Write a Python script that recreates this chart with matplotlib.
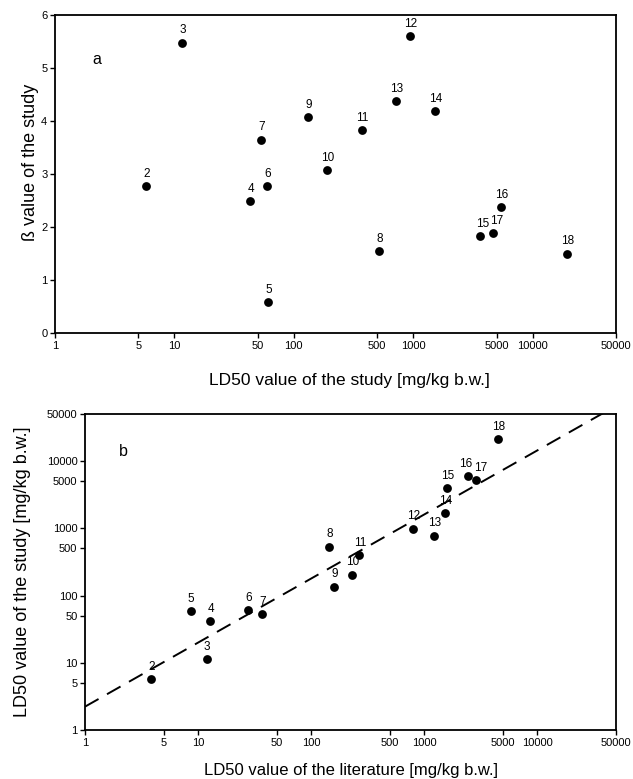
import matplotlib
matplotlib.use("Agg")
import matplotlib.pyplot as plt
import numpy as np

plt.rcParams['font.family'] = ['Liberation Sans', 'DejaVu Sans']

# ---- data ----
compound_ids = [2, 3, 4, 5, 6, 7, 8, 9, 10, 11, 12, 13, 14, 15, 16, 17, 18]

# panel a: LD50 of the study vs beta value
ld50_study_a = [5.8, 11.6, 43, 61, 60, 53, 514, 132, 191, 370, 940, 713, 1531, 3630, 5435, 4690, 19400]
beta_values = [2.78, 5.48, 2.49, 0.59, 2.77, 3.65, 1.54, 4.08, 3.08, 3.83, 5.61, 4.37, 4.19, 1.83, 2.37, 1.89, 1.50]

# panel b: LD50 of literature vs LD50 of the study
ld50_literature = [3.84, 11.9, 12.8, 8.6, 27.9, 36.8, 144, 159, 231, 268, 804, 1219, 1544, 1598, 2450, 2885, 4545]
ld50_study_b = [5.68, 11.5, 42.3, 59.6, 61, 53, 534, 136, 205, 402, 991, 779, 1676, 3950, 5890, 5250, 21170]

# regression line (log10 y = intercept + slope * log10 x)
reg_intercept = 0.347
reg_slope = 0.952

log_ticks = [1, 5, 10, 50, 100, 500, 1000, 5000, 10000, 50000]
log_tick_labels = ['1', '5', '10', '50', '100', '500', '1000', '5000', '10000', '50000']
beta_ticks = [0, 1, 2, 3, 4, 5, 6]

# small horizontal nudges (points) for crowded labels
label_dx_b = {16: -2.5, 17: 3.0}
label_dx_a = {15: 1.5, 17: 2.0}

W, H = 633, 779
fig = plt.figure(figsize=(W / 100, H / 100), dpi=100)

def fx(px):
    return px / W

def fy(py):
    return 1 - py / H

ax_a = fig.add_axes([fx(55), fy(333), fx(616) - fx(55), fy(15) - fy(333)])
ax_b = fig.add_axes([fx(85), fy(730), fx(616) - fx(85), fy(414) - fy(730)])

for ax in (ax_a, ax_b):
    for s in ax.spines.values():
        s.set_linewidth(1.3)
        s.set_color('black')
    ax.tick_params(axis='both', which='major', direction='out', length=3.5, width=1.0,
                   labelsize=8, pad=2, colors='black')
    ax.tick_params(which='minor', length=0)

# ---- panel a ----
ax_a.set_xscale('log')
ax_a.set_xlim(1, 50000)
ax_a.set_ylim(0, 6)
ax_a.set_xticks(log_ticks)
ax_a.set_xticklabels(log_tick_labels)
ax_a.set_yticks(beta_ticks)
ax_a.set_yticklabels([str(t) for t in beta_ticks])
ax_a.minorticks_off()
ax_a.scatter(ld50_study_a, beta_values, s=40, color='black', zorder=3, linewidths=0)
for cid, x, y in zip(compound_ids, ld50_study_a, beta_values):
    ax_a.annotate(str(cid), (x, y), textcoords='offset points',
                  xytext=(0.5 + label_dx_a.get(cid, 0), 8.7),
                  ha='center', va='center', fontsize=8.5, color='black')
ax_a.text(0.075, 0.86, 'a', transform=ax_a.transAxes, fontsize=11.5,
          ha='center', va='center')
fig.text(fx(31), fy(162), 'ß value of the study', rotation=90, ha='center',
         va='center', fontsize=13)

fig.text(fx(349), fy(381), 'LD50 value of the study [mg/kg b.w.]', ha='center',
         va='center', fontsize=12.5)

# ---- panel b ----
ax_b.set_xscale('log')
ax_b.set_yscale('log')
ax_b.set_xlim(1, 50000)
ax_b.set_ylim(1, 50000)
ax_b.set_xticks(log_ticks)
ax_b.set_xticklabels(log_tick_labels)
ax_b.set_yticks(log_ticks)
ax_b.set_yticklabels(log_tick_labels)
ax_b.minorticks_off()

xline = np.logspace(0, np.log10(50000), 200)
yline = 10 ** (reg_intercept + reg_slope * np.log10(xline))
ax_b.plot(xline, yline, color='black', lw=1.4, dashes=(8, 5), zorder=2)

ax_b.scatter(ld50_literature, ld50_study_b, s=40, color='black', zorder=3, linewidths=0)
for cid, x, y in zip(compound_ids, ld50_literature, ld50_study_b):
    ax_b.annotate(str(cid), (x, y), textcoords='offset points',
                  xytext=(0.5 + label_dx_b.get(cid, 0), 8.7),
                  ha='center', va='center', fontsize=8.5, color='black')
ax_b.text(0.072, 0.88, 'b', transform=ax_b.transAxes, fontsize=11.5,
          ha='center', va='center')
fig.text(fx(23), fy(572), 'LD50 value of the study [mg/kg b.w.]', rotation=90,
         ha='center', va='center', fontsize=13)

fig.text(fx(351), fy(770), 'LD50 value of the literature [mg/kg b.w.]', ha='center',
         va='center', fontsize=12)

fig.savefig('out.png', dpi=100)
